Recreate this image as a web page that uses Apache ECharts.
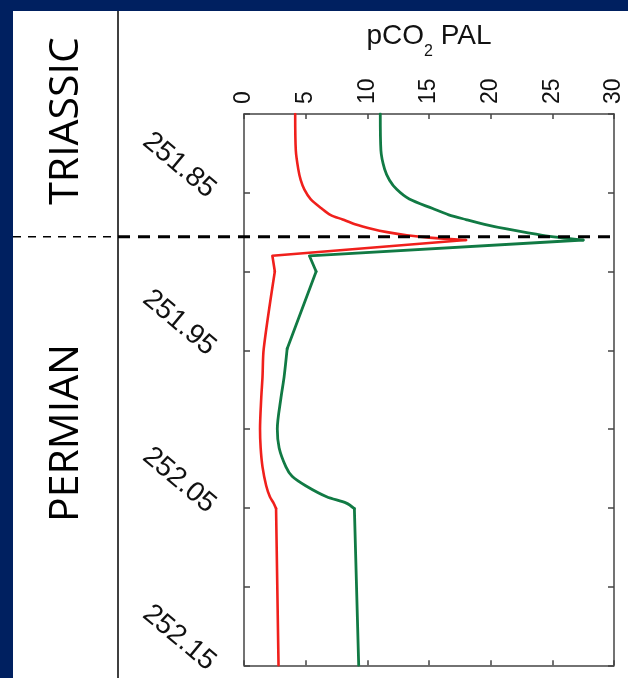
<!DOCTYPE html>
<html>
<head>
<meta charset="utf-8">
<script src="https://cdn.jsdelivr.net/npm/echarts@6/dist/echarts.min.js"></script>
<style>html,body{margin:0;padding:0;background:#fff}#c{width:628px;height:678px}</style>
</head>
<body>
<div id="c"></div>
<script>
// ---- data ----
const xTickValues = [0, 5, 10, 15, 20, 25, 30];
const ageTickLabels = ['251.85', '251.95', '252.05', '252.15'];
const boundaryAge = 251.878;
const periodNames = ['TRIASSIC', 'PERMIAN'];
const axisTitle = 'pCO2 PAL';

const redAges  = [251.800, 251.823, 251.835, 251.842, 251.848, 251.854, 251.860, 251.864, 251.867, 251.870, 251.873, 251.875, 251.877, 251.8785, 251.880, 251.890, 251.900, 251.949, 251.967, 251.980, 252.000, 252.012, 252.024, 252.036, 252.043, 252.047, 252.0505, 252.150];
const redPco2  = [4.15,    4.2,     4.4,     4.6,     4.9,     5.4,     6.3,     7.0,     8.0,     9.0,     10.4,    11.6,    13.2,    15.0,     18.0,    2.3,     2.5,     1.6,     1.5,     1.4,     1.3,     1.35,    1.5,     1.8,     2.1,     2.4,     2.6,      2.8];
// [start index, end index, smooth?] pieces of the red curve
const redPieces = [[0, 14, true], [14, 16, false], [16, 26, true], [26, 27, false]];

const greenAges = [251.800, 251.823, 251.835, 251.842, 251.848, 251.854, 251.860, 251.864, 251.867, 251.870, 251.873, 251.877, 251.880, 251.890, 251.900, 251.949, 251.967, 251.980, 252.000, 252.012, 252.024, 252.030, 252.036, 252.043, 252.047, 252.0505, 252.150];
const greenPco2 = [11.05,   11.1,    11.4,    11.8,    12.4,    13.4,    15.3,    16.6,    18.0,    19.5,    21.3,    24.2,    27.5,    5.3,     5.85,    3.5,     3.25,    3.0,     2.7,     2.85,    3.4,     3.9,     5.0,     6.7,     8.3,     8.95,     9.3];
const greenPieces = [[0, 12, true], [12, 14, false], [14, 15, false], [15, 25, true], [25, 26, false]];

// ---- chart ----
const chart = echarts.init(document.getElementById('c'), null, {renderer: 'canvas'});
const frame = {color: '#444', width: 1.5};

const baseX = {
  type: 'value', min: xTickValues[0], max: xTickValues[xTickValues.length - 1], interval: 5,
  axisLine: {show: true, onZero: false, lineStyle: frame},
  axisTick: {show: true, inside: true, length: 5, lineStyle: frame},
  splitLine: {show: false}
};
const baseY = {
  type: 'value', inverse: true, min: 251.80, max: 252.15, interval: 0.05,
  axisLine: {show: true, onZero: false, lineStyle: frame},
  axisTick: {show: true, inside: true, length: 6, lineStyle: frame},
  splitLine: {show: false}
};

function pieces(xs, ys, defs, color, width) {
  return defs.map(([a, b, sm]) => ({
    type: 'line', xAxisIndex: 0, yAxisIndex: 0,
    data: xs.slice(a, b + 1).map((v, i) => [v, ys[a + i]]),
    showSymbol: false, smooth: sm ? 0.3 : false,
    lineStyle: {color: color, width: width, cap: 'round', join: 'round'}, z: 3
  }));
}

chart.setOption({
  backgroundColor: '#ffffff',
  animation: false,
  grid: {left: 244, right: 14, top: 114, bottom: 8, containLabel: false},
  xAxis: [
    Object.assign({}, baseX, {
      position: 'top',
      axisLabel: {show: true, rotate: -90, margin: 10, fontSize: 23, color: '#111', fontFamily: 'Liberation Sans, Arial, sans-serif',
        formatter: v => xTickValues.includes(Math.round(v)) ? String(Math.round(v)) : ''}
    }),
    Object.assign({}, baseX, {position: 'bottom', axisLabel: {show: false}})
  ],
  yAxis: [
    Object.assign({}, baseY, {
      position: 'left',
      axisLabel: {show: true, rotate: -40, margin: 32, fontSize: 28, color: '#111', fontFamily: 'Liberation Sans, Arial, sans-serif',
        formatter: v => { const s = v.toFixed(2); return ageTickLabels.includes(s) ? s : ''; }}
    }),
    Object.assign({}, baseY, {position: 'right', axisLabel: {show: false}})
  ],
  series: pieces(redPco2, redAges, redPieces, '#f0201c', 2.6)
    .concat(pieces(greenPco2, greenAges, greenPieces, '#117a44', 2.8))
});

const by = chart.convertToPixel({yAxisIndex: 0}, boundaryAge);
const xRight = chart.convertToPixel({xAxisIndex: 0}, xTickValues[xTickValues.length - 1]);
const xMid = (chart.convertToPixel({xAxisIndex: 0}, xTickValues[0]) + xRight) / 2;
const subIdx = axisTitle.indexOf('2');

chart.setOption({
  graphic: [
    {type: 'rect', shape: {x: 0, y: 0, width: 13, height: 678}, style: {fill: '#002060'}, z: 200, silent: true},
    {type: 'rect', shape: {x: 0, y: 0, width: 628, height: 11}, style: {fill: '#002060'}, z: 200, silent: true},
    {type: 'line', shape: {x1: 118, y1: 11, x2: 118, y2: 678}, style: {stroke: '#000', lineWidth: 1.5}, z: 100, silent: true},
    {type: 'line', shape: {x1: 13, y1: by, x2: 118, y2: by}, style: {stroke: '#000', lineWidth: 1.5, lineDash: [8, 7]}, z: 100, silent: true},
    {type: 'line', shape: {x1: 118, y1: by, x2: xRight, y2: by}, style: {stroke: '#000', lineWidth: 3, lineDash: [12, 8]}, z: 100, silent: true},
    {type: 'text', x: 66, y: 121, rotation: Math.PI / 2, z: 100, silent: true,
     style: {text: periodNames[0], fontSize: 41, fontFamily: 'Open Sans', fill: '#000', align: 'center', verticalAlign: 'middle'}},
    {type: 'text', x: 66, y: 433, rotation: Math.PI / 2, z: 100, silent: true,
     style: {text: periodNames[1], fontSize: 41, fontFamily: 'Open Sans', fill: '#000', align: 'center', verticalAlign: 'middle'}},
    {type: 'text', x: xMid, y: 22, z: 100, silent: true,
     style: {
       text: '{a|' + axisTitle.slice(0, subIdx) + '}{s|2}{a|' + axisTitle.slice(subIdx + 1) + '}',
       align: 'center', verticalAlign: 'top',
       rich: {
         a: {fontSize: 28, lineHeight: 28, fontFamily: 'Liberation Sans', fill: '#111', verticalAlign: 'top'},
         s: {fontSize: 16, lineHeight: 16, fontFamily: 'Liberation Sans', fill: '#111', verticalAlign: 'top', padding: [22, 0, 0, 0]}
       }
     }}
  ]
});
</script>
</body>
</html>
